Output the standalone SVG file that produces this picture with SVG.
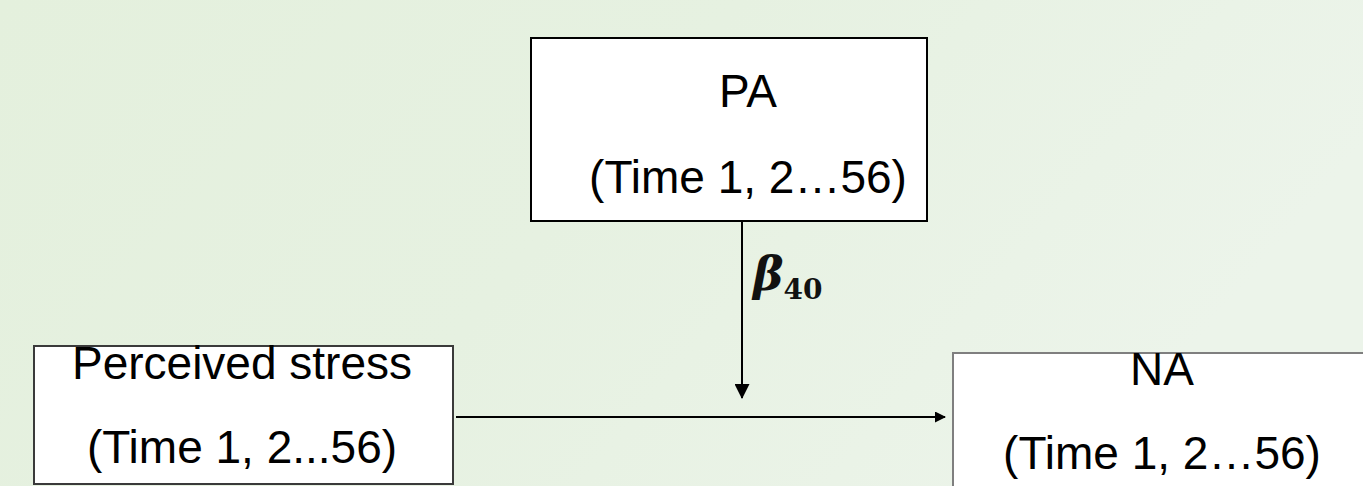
<svg xmlns="http://www.w3.org/2000/svg" width="1363" height="486" viewBox="0 0 1363 486">
  <defs>
    <linearGradient id="bg" x1="0" y1="0" x2="1" y2="0.3">
      <stop offset="0" stop-color="#e4f0dd"/>
      <stop offset="0.5" stop-color="#e6f1e1"/>
      <stop offset="1" stop-color="#ecf4ea"/>
    </linearGradient>
    <marker id="arrow" markerWidth="11" markerHeight="11" refX="10" refY="5.5" orient="auto" markerUnits="userSpaceOnUse" viewBox="0 0 11 11">
      <path d="M0,0 L11,5.5 L0,11 Z" fill="#000"/>
    </marker>
    <marker id="arrow-v" markerWidth="15" markerHeight="15" refX="14" refY="7.5" orient="auto" markerUnits="userSpaceOnUse" viewBox="0 0 15 15">
      <path d="M0,0 L15,7.5 L0,15 Z" fill="#000"/>
    </marker>
    <style>
      .box { fill: #ffffff; stroke: #000000; stroke-width: 2; }
      .box-dim { fill: #ffffff; stroke: #3a3a3a; stroke-width: 2; }
      .box-soft { fill: #ffffff; stroke: #7f7f7f; stroke-width: 2; }
      .label { font-family: "Liberation Sans", Arial, sans-serif; font-size: 46px; fill: #000; text-anchor: middle; }
      .edge { stroke: #000; stroke-width: 2; fill: none; }
      .coef { font-family: "DejaVu Serif", "Liberation Serif", serif; font-weight: bold; fill: #111; }
    </style>
  </defs>

  <rect x="0" y="0" width="1363" height="486" fill="url(#bg)"/>

  <!-- moderator node -->
  <g id="node-pa">
    <rect class="box" x="531" y="38" width="396" height="183"/>
    <text class="label" x="748" y="107">PA</text>
    <text class="label" x="748" y="193">(Time 1, 2…56)</text>
  </g>

  <!-- predictor node -->
  <g id="node-stress">
    <rect class="box-dim" x="34" y="346" width="419" height="138"/>
    <text class="label" x="242" y="379">Perceived stress</text>
    <text class="label" x="242" y="463">(Time 1, 2...56)</text>
  </g>

  <!-- outcome node -->
  <g id="node-na">
    <rect class="box-soft" x="953" y="353" width="420" height="150"/>
    <text class="label" x="1162" y="385">NA</text>
    <text class="label" x="1162" y="469">(Time 1, 2…56)</text>
  </g>

  <g id="connectors">
    <line class="edge" x1="456" y1="417" x2="945" y2="417" marker-end="url(#arrow)"/>
    <line class="edge" x1="742" y1="221" x2="742" y2="398" marker-end="url(#arrow-v)"/>
    <text class="coef" x="753" y="290" font-size="46" font-style="italic">β<tspan font-size="28" font-style="normal" dy="9">40</tspan></text>
  </g>
</svg>
